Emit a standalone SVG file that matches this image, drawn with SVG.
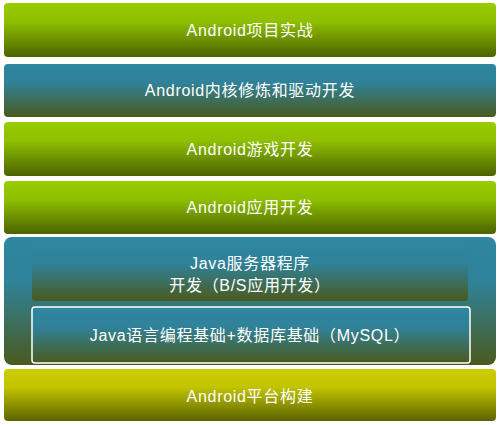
<svg xmlns="http://www.w3.org/2000/svg" width="500" height="425" viewBox="0 0 500 425">
<defs>
<linearGradient id="gGreen" x1="0" y1="0" x2="0" y2="1">
<stop offset="0" stop-color="#99cc00"/><stop offset="0.35" stop-color="#8fbf00"/><stop offset="1" stop-color="#4b6300"/>
</linearGradient>
<linearGradient id="gTeal" x1="0" y1="0" x2="0" y2="1">
<stop offset="0" stop-color="#2e86a0"/><stop offset="0.35" stop-color="#2f8299"/><stop offset="1" stop-color="#4a5a1e"/>
</linearGradient>
<linearGradient id="gYellow" x1="0" y1="0" x2="0" y2="1">
<stop offset="0" stop-color="#cccc00"/><stop offset="0.35" stop-color="#c2c400"/><stop offset="1" stop-color="#5c6400"/>
</linearGradient>
<style>
text{font-family:"Liberation Sans","Noto Sans CJK SC",sans-serif;font-size:16px;letter-spacing:0.7px;fill:#ffffff;text-anchor:middle;dominant-baseline:central}
</style>
</defs>
<rect width="500" height="425" fill="#ffffff"/>
<g id="n1"><rect x="4" y="3" width="492" height="54" rx="4" fill="url(#gGreen)"/><text x="250" y="30">Android项目实战</text></g>
<g id="n2"><rect x="4" y="64" width="492" height="53" rx="4" fill="url(#gTeal)"/><text x="250" y="90">Android内核修炼和驱动开发</text></g>
<g id="n3"><rect x="4" y="122" width="492" height="54" rx="4" fill="url(#gGreen)"/><text x="250" y="149">Android游戏开发</text></g>
<g id="n4"><rect x="4" y="181" width="492" height="53" rx="4" fill="url(#gGreen)"/><text x="250" y="207">Android应用开发</text></g>
<g id="n5"><rect x="4" y="237" width="492" height="128" rx="8" fill="url(#gTeal)"/></g>
<g id="n6"><rect x="32" y="243" width="436" height="58" rx="3" fill="url(#gTeal)"/><text x="250" y="263">Java服务器程序</text><text x="250" y="285">开发（B/S应用开发）</text></g>
<g id="n7"><rect x="32" y="307" width="438" height="56" rx="3" fill="url(#gTeal)" stroke="#ffffff" stroke-width="1.5"/><text x="250" y="335">Java语言编程基础+数据库基础（MySQL）</text></g>
<g id="n8"><rect x="4" y="369" width="492" height="52" rx="4" fill="url(#gYellow)"/><text x="250" y="396">Android平台构建</text></g>
<g id="connectors"/>
</svg>
